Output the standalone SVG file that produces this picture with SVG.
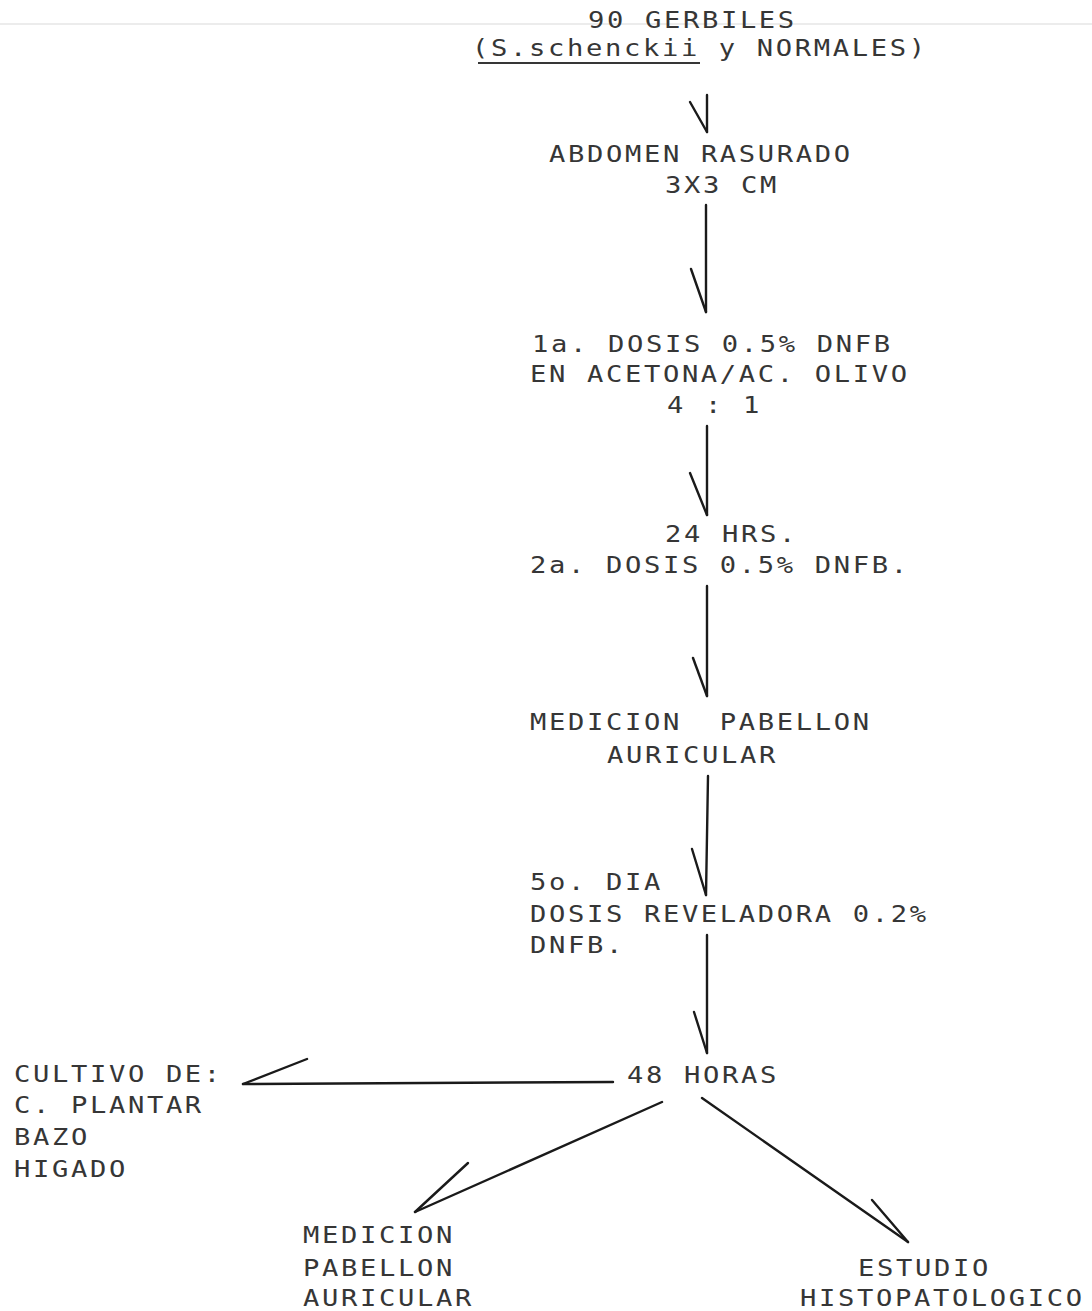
<svg xmlns="http://www.w3.org/2000/svg" width="1092" height="1311" viewBox="0 0 1092 1311">
<style>
text{font-family:"DejaVu Sans Mono","Liberation Mono",monospace;font-size:23px;letter-spacing:2.25px;fill:#363636;white-space:pre}
.c line{stroke:#1a1a1a;stroke-width:2.4;fill:none;stroke-linecap:round}
</style>
<rect width="1092" height="1311" fill="#ffffff"/>
<line x1="0" y1="24" x2="1092" y2="24" stroke="#ececec" stroke-width="2"/>
<g id="n1">
<text transform="matrix(1.18,0,0,1,588,28)">90 GERBILES</text>
<text transform="matrix(1.18,0,0,1,472,56)">(S.</text>
<text transform="matrix(1.18,0,0,1,529,56)" xml:space="preserve">schenckii y NORMALES)</text>
<line x1="478" y1="63" x2="700" y2="63" stroke="#363636" stroke-width="2"/>
</g>
<g id="n2">
<text transform="matrix(1.18,0,0,1,549,162)">ABDOMEN RASURADO</text>
<text transform="matrix(1.18,0,0,1,665,193)">3X3 CM</text>
</g>
<g id="n3">
<text transform="matrix(1.18,0,0,1,532,352)">1a. DOSIS 0.5% DNFB</text>
<text transform="matrix(1.18,0,0,1,530,382)">EN ACETONA/AC. OLIVO</text>
<text transform="matrix(1.18,0,0,1,667,413)" xml:space="preserve">4 : 1</text>
</g>
<g id="n4">
<text transform="matrix(1.18,0,0,1,665,542)">24 HRS.</text>
<text transform="matrix(1.18,0,0,1,530,573)">2a. DOSIS 0.5% DNFB.</text>
</g>
<g id="n5">
<text transform="matrix(1.18,0,0,1,530,730)" xml:space="preserve">MEDICION  PABELLON</text>
<text transform="matrix(1.18,0,0,1,607,763)">AURICULAR</text>
</g>
<g id="n6">
<text transform="matrix(1.18,0,0,1,530,890)">5o. DIA</text>
<text transform="matrix(1.18,0,0,1,530,922)">DOSIS REVELADORA 0.2%</text>
<text transform="matrix(1.18,0,0,1,530,953)">DNFB.</text>
</g>
<g id="n7">
<text transform="matrix(1.18,0,0,1,627,1083)">48 HORAS</text>
</g>
<g id="n8">
<text transform="matrix(1.18,0,0,1,14,1082)">CULTIVO DE:</text>
<text transform="matrix(1.18,0,0,1,14,1113)">C. PLANTAR</text>
<text transform="matrix(1.18,0,0,1,14,1145)">BAZO</text>
<text transform="matrix(1.18,0,0,1,14,1177)">HIGADO</text>
</g>
<g id="n9">
<text transform="matrix(1.18,0,0,1,303,1243)">MEDICION</text>
<text transform="matrix(1.18,0,0,1,303,1276)">PABELLON</text>
<text transform="matrix(1.18,0,0,1,303,1306)">AURICULAR</text>
</g>
<g id="n10">
<text transform="matrix(1.18,0,0,1,858,1276)">ESTUDIO</text>
<text transform="matrix(1.18,0,0,1,800,1306)">HISTOPATOLOGICO</text>
</g>
<g id="connectors" class="c">
<line x1="707" y1="95" x2="707" y2="132"/><line x1="690" y1="102" x2="707" y2="132"/>
<line x1="706" y1="205" x2="706" y2="312"/><line x1="691" y1="269" x2="706" y2="312"/>
<line x1="707" y1="426" x2="707" y2="515"/><line x1="690" y1="473" x2="707" y2="515"/>
<line x1="707" y1="586" x2="707" y2="696"/><line x1="693" y1="658" x2="707" y2="696"/>
<line x1="708" y1="776" x2="706" y2="895"/><line x1="692" y1="849" x2="706" y2="895"/>
<line x1="707" y1="935" x2="707" y2="1053"/><line x1="694" y1="1012" x2="707" y2="1053"/>
<line x1="613" y1="1082" x2="243" y2="1084"/><line x1="307" y1="1059" x2="243" y2="1084"/>
<line x1="662" y1="1102" x2="415" y2="1212"/><line x1="468" y1="1163" x2="415" y2="1212"/>
<line x1="702" y1="1098" x2="908" y2="1242"/><line x1="872" y1="1200" x2="908" y2="1242"/>
</g>
</svg>
